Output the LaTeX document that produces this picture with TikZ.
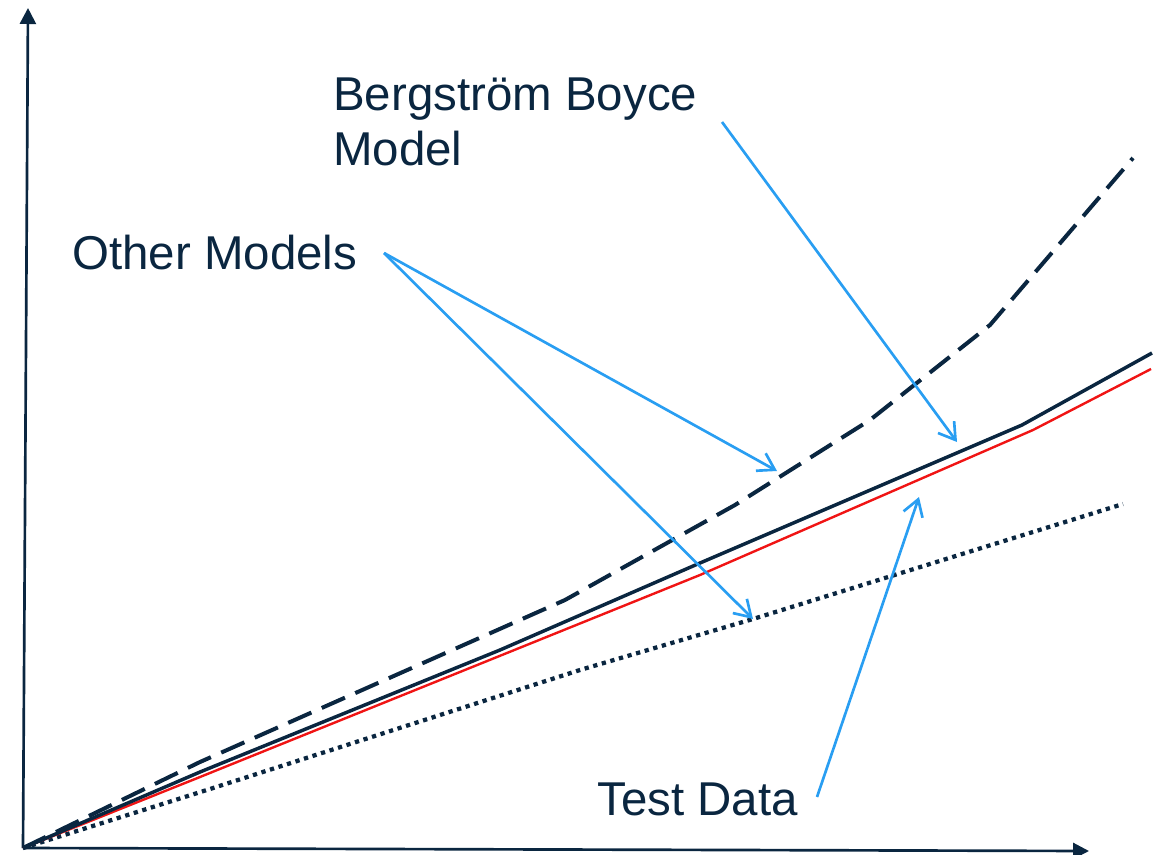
\documentclass[tikz,border=0pt]{standalone}
\usepackage{fontspec}
\setmainfont{Liberation Sans}
\usetikzlibrary{arrows.meta}
\definecolor{navy}{RGB}{10,38,64}
\definecolor{callout}{RGB}{41,158,242}
\definecolor{testred}{RGB}{240,20,20}
\tikzset{
  axis/.style={navy, line width=2pt, -{Triangle[length=12pt,width=12pt]}},
  label/.style={navy, inner sep=0pt, font=\fontsize{35.6}{41.25}\selectfont, align=left},
  pointer/.style={callout, line width=2pt, -{Straight Barb[length=12pt,width=15pt,line width=2pt]}},
  bbcurve/.style={navy, line width=2.6pt, line join=round},
  testcurve/.style={testred, line width=1.8pt, line join=round},
  dashcurve/.style={navy, line width=3pt, dash pattern=on 19pt off 8.5pt},
  dotcurve/.style={navy, line width=3.2pt, dash pattern=on 3.2pt off 3.5pt}
}
\begin{document}
\begin{tikzpicture}[x=0.75pt,y=-0.75pt]
\useasboundingbox (0,0) rectangle (1173,855);
% axes
\coordinate (o) at (23,848);
\coordinate (ytip) at (28,8);
\coordinate (xtip) at (1089,851);
\draw[axis] (o) -- (ytip);
\draw[axis] (o) -- (xtip);
% curves
\draw[dotcurve] (o) -- (210,789) -- (580,670) -- (753,619) -- (1123,504);
\draw[testcurve] (o) -- (200,777) -- (700,575) -- (1033,430) -- (1151,369);
\draw[bbcurve] (o) -- (200,772) -- (500,650) -- (700,563) -- (1022,425) -- (1152,353);
\draw[dashcurve] (o) -- (200,762) -- (565,600) -- (735,505) -- (870,420) -- (990,325) -- (1133,158);
% labels
\node[label, anchor=base west] (bb) at (333,166) {Bergström Boyce\\Model};
\node[label, anchor=base west] (om) at (72,270) {Other Models};
\node[label, anchor=base west] (td) at (597,815) {Test Data};
% pointer ends
\coordinate (omtail) at (384,253);
\coordinate (bbtail) at (722,122);
\coordinate (tdtail) at (817,797);
\coordinate (dashhead) at (777,471);
\coordinate (dothead) at (753,619);
\coordinate (bbhead) at (957,442);
\coordinate (tdhead) at (919,497);
\draw[pointer] (omtail) -- (dashhead);
\draw[pointer] (omtail) -- (dothead);
\draw[pointer] (bbtail) -- (bbhead);
\draw[pointer] (tdtail) -- (tdhead);
\end{tikzpicture}
\end{document}
